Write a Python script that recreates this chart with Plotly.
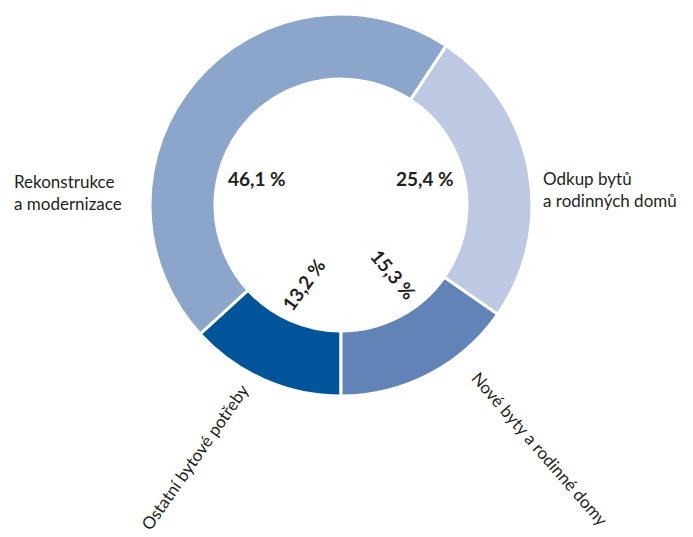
import plotly.graph_objects as go

# Data
categories = ["Ostatní bytové potřeby", "Rekonstrukce a modernizace",
              "Odkup bytů a rodinných domů", "Nové byty a rodinné domy"]
values = [13.2, 46.1, 25.4, 15.3]
colors = ["#00559A", "#8CA5CB", "#BDC9E2", "#6183B8"]

# Label layout (pixel positions in a 693x537 canvas; page has 8px body offset)
W, H = 693, 537
OFF = 8
pct_pos = [(303, 284, -54), (257, 178, 0), (425, 178, 0), (394, 274, 50)]
cat_text = ["Ostatní bytové potřeby", "Rekonstrukce<br>a modernizace",
            "Odkup bytů<br>a rodinných domů", "Nové byty a rodinné domy"]
cat_pos = [(194, 457, -55, "center"), (12, 192, 0, "left"),
           (541, 189, 0, "left"), (540, 448, 49, "center")]

cx, cy, r = 341 - OFF, 205 - OFF, 191

fig = go.Figure(go.Pie(
    labels=categories, values=values, sort=False, direction="clockwise",
    rotation=180, hole=0.66, textinfo="none", hoverinfo="label+percent",
    marker=dict(colors=colors, line=dict(color="white", width=3)),
    domain=dict(x=[(cx - r) / W, (cx + r) / W],
                y=[(H - cy - r) / H, (H - cy + r) / H]),
    showlegend=False,
))

font_family = "Lato, 'Noto Sans', sans-serif"
annotations = []
for v, (x, y, ang) in zip(values, pct_pos):
    annotations.append(dict(
        x=(x - OFF) / W, y=1 - (y - OFF) / H, xref="paper", yref="paper",
        text="<b>" + f"{v:.1f}".replace(".", ",") + " %</b>",
        showarrow=False, textangle=ang,
        font=dict(size=19, color="#231F20", family=font_family),
        xanchor="center", yanchor="middle"))
for t, (x, y, ang, al) in zip(cat_text, cat_pos):
    annotations.append(dict(
        x=(x - OFF) / W, y=1 - (y - OFF) / H, xref="paper", yref="paper", text=t,
        showarrow=False, textangle=ang, align="left",
        font=dict(size=17, color="#231F20", family=font_family),
        xanchor="left" if al == "left" else "center", yanchor="middle"))

fig.update_layout(
    width=W, height=H, margin=dict(l=0, r=0, t=0, b=0),
    paper_bgcolor="white", plot_bgcolor="white",
    annotations=annotations,
)
fig.write_html("out.html")
